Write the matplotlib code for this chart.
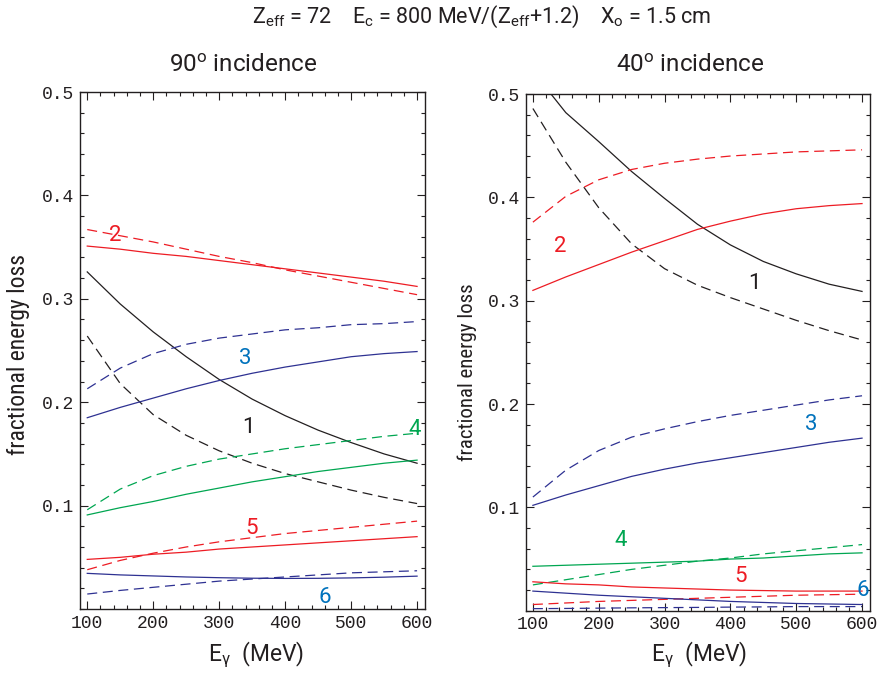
import numpy as np
import matplotlib
matplotlib.use("Agg")
from matplotlib import pyplot as plt
from matplotlib.ticker import MultipleLocator

plt.rcParams['font.family'] = ['Roboto', 'DejaVu Sans']
plt.rcParams['mathtext.fontset'] = 'custom'
plt.rcParams['mathtext.rm'] = 'Roboto'
plt.rcParams['mathtext.it'] = 'Roboto:italic'

# photon energy grid (MeV)
energy = [100, 150, 200, 250, 300, 350, 400, 450, 500, 550, 600]

# 90 degree incidence
l1_solid = [0.326, 0.295, 0.268, 0.244, 0.222, 0.203, 0.187, 0.173, 0.161, 0.150, 0.141]
l1_dash = [0.264, 0.218, 0.188, 0.168, 0.153, 0.141, 0.131, 0.123, 0.115, 0.108, 0.102]
l2_solid = [0.351, 0.348, 0.344, 0.341, 0.337, 0.333, 0.329, 0.325, 0.321, 0.317, 0.312]
l2_dash = [0.367, 0.361, 0.355, 0.348, 0.341, 0.335, 0.328, 0.322, 0.316, 0.310, 0.304]
l3_solid = [0.185, 0.195, 0.204, 0.213, 0.221, 0.228, 0.234, 0.239, 0.244, 0.247, 0.249]
l3_dash = [0.213, 0.233, 0.247, 0.256, 0.262, 0.266, 0.270, 0.272, 0.275, 0.276, 0.278]
l4_solid = [0.091, 0.098, 0.104, 0.111, 0.117, 0.123, 0.128, 0.133, 0.137, 0.141, 0.144]
l4_dash = [0.096, 0.116, 0.129, 0.138, 0.145, 0.150, 0.155, 0.159, 0.163, 0.167, 0.170]
l5_solid = [0.048, 0.050, 0.053, 0.055, 0.058, 0.060, 0.062, 0.064, 0.066, 0.068, 0.070]
l5_dash = [0.038, 0.047, 0.054, 0.060, 0.065, 0.069, 0.073, 0.076, 0.079, 0.082, 0.085]
l6_solid = [0.0345, 0.033, 0.032, 0.031, 0.0303, 0.0298, 0.0296, 0.0297, 0.0301, 0.0308, 0.0318]
l6_dash = [0.0145, 0.018, 0.021, 0.024, 0.027, 0.029, 0.031, 0.033, 0.035, 0.036, 0.037]

# 40 degree incidence
r1_solid = [0.522, 0.482, 0.454, 0.425, 0.399, 0.374, 0.354, 0.338, 0.326, 0.316, 0.309]
r1_dash = [0.486, 0.434, 0.390, 0.355, 0.331, 0.315, 0.303, 0.292, 0.281, 0.271, 0.262]
r2_solid = [0.310, 0.323, 0.335, 0.347, 0.358, 0.369, 0.377, 0.384, 0.389, 0.392, 0.394]
r2_dash = [0.376, 0.401, 0.417, 0.427, 0.433, 0.437, 0.440, 0.442, 0.444, 0.445, 0.446]
r3_solid = [0.102, 0.112, 0.121, 0.130, 0.137, 0.143, 0.148, 0.153, 0.158, 0.163, 0.167]
r3_dash = [0.110, 0.136, 0.155, 0.168, 0.176, 0.183, 0.189, 0.194, 0.199, 0.204, 0.208]
r4_solid = [0.043, 0.044, 0.045, 0.046, 0.047, 0.048, 0.050, 0.051, 0.053, 0.055, 0.056]
r4_dash = [0.025, 0.030, 0.035, 0.040, 0.044, 0.048, 0.051, 0.055, 0.058, 0.061, 0.064]
r5_solid = [0.028, 0.026, 0.025, 0.023, 0.022, 0.021, 0.020, 0.0195, 0.019, 0.019, 0.019]
r5_dash = [0.006, 0.0075, 0.009, 0.010, 0.011, 0.012, 0.013, 0.014, 0.015, 0.0155, 0.016]
r6_solid = [0.019, 0.017, 0.015, 0.0135, 0.012, 0.0105, 0.009, 0.008, 0.007, 0.0065, 0.006]
r6_dash = [0.002, 0.0022, 0.0025, 0.0028, 0.003, 0.0032, 0.0035, 0.0037, 0.004, 0.004, 0.004]

# curve numbers and where they sit
left_labels = ['2', '3', '1', '4', '5', '6']
left_label_x = [142, 339, 344, 597, 349, 460]
left_label_y = [0.361, 0.242, 0.176, 0.174, 0.0777, 0.011]
right_labels = ['2', '1', '3', '4', '5', '6']
right_label_x = [141, 436, 523, 233, 416, 601]
right_label_y = [0.3525, 0.317, 0.180, 0.0675, 0.0336, 0.0198]

RED = '#ed1c24'
NAVY = '#2e3192'
GREEN = '#00a651'
BLUE = '#0072bc'
BLACK = '#231f20'
label_col = {'1': BLACK, '2': RED, '3': BLUE, '4': GREEN, '5': RED, '6': BLUE}
NARROW = ['Roboto Condensed', 'Liberation Sans Narrow', 'DejaVu Sans Condensed', 'Roboto']

fig = plt.figure(figsize=(8.83, 6.77), dpi=100)
axL = fig.add_axes([0.0906, 0.1004, 0.3907, 0.7637])
axR = fig.add_axes([0.5953, 0.0979, 0.3899, 0.7632])

left_curves = [(l1_solid, l1_dash, BLACK), (l2_solid, l2_dash, RED), (l3_solid, l3_dash, NAVY),
               (l4_solid, l4_dash, GREEN), (l5_solid, l5_dash, RED), (l6_solid, l6_dash, NAVY)]
right_curves = [(r1_solid, r1_dash, BLACK), (r2_solid, r2_dash, RED), (r3_solid, r3_dash, NAVY),
                (r4_solid, r4_dash, GREEN), (r5_solid, r5_dash, RED), (r6_solid, r6_dash, NAVY)]

def draw(ax, curves, labels, lx, ly):
    for sol, das, c in curves:
        ax.plot(energy, sol, color=c, lw=0.9)
        ax.plot(energy, das, color=c, lw=0.9, dashes=(8, 4.5))
    for s, x, y in zip(labels, lx, ly):
        ax.text(x, y, s, color=label_col[s], fontsize=16, ha='center', va='center')
    ax.set_xlim(89, 612)
    ax.set_ylim(0, 0.5)
    ax.set_xticks([100, 200, 300, 400, 500, 600])
    ax.set_yticks([0.1, 0.2, 0.3, 0.4, 0.5])
    ax.xaxis.set_minor_locator(MultipleLocator(20))
    ax.yaxis.set_minor_locator(MultipleLocator(0.02))
    ax.tick_params(which='both', direction='in', top=True, right=True, color=BLACK, width=0.8)
    ax.tick_params(which='major', length=6, labelsize=13, pad=4)
    ax.tick_params(which='minor', length=3)
    for lab in ax.get_xticklabels() + ax.get_yticklabels():
        lab.set_family('Liberation Mono')
        lab.set_color(BLACK)
    for sp in ax.spines.values():
        sp.set_color(BLACK)
        sp.set_linewidth(1.0)

draw(axL, left_curves, left_labels, left_label_x, left_label_y)
draw(axR, right_curves, right_labels, right_label_x, right_label_y)

fig.text(0.545, 0.975, r'$\mathregular{Z_{eff}}$ = 72    $\mathregular{E_c}$ = 800 MeV/($\mathregular{Z_{eff}}$+1.2)    $\mathregular{X_o}$ = 1.5 cm',
         ha='center', va='center', fontsize=15.5, color=BLACK)
fig.text(243 / 883, 1 - 65 / 677, r'$\mathregular{90^o}$ incidence', ha='center', va='center', fontsize=17.5, color=BLACK)
fig.text(690 / 883, 1 - 65 / 677, r'$\mathregular{40^o}$ incidence', ha='center', va='center', fontsize=17.5, color=BLACK)
fig.text(19 / 883, 1 - 354 / 677, 'fractional energy loss', rotation=90, ha='center', va='center',
         fontsize=17, family=NARROW, color=BLACK)
fig.text(467 / 883, 1 - 372 / 677, 'fractional energy loss', rotation=90, ha='center', va='center',
         fontsize=15, family=NARROW, color=BLACK)
fig.text(256 / 883, 1 - 655 / 677, r'$\mathregular{E_{\gamma}}$  (MeV)', ha='center', va='center', fontsize=16.5, color=BLACK)
fig.text(699 / 883, 1 - 655 / 677, r'$\mathregular{E_{\gamma}}$  (MeV)', ha='center', va='center', fontsize=16.5, color=BLACK)

fig.savefig('out.png', dpi=100)
